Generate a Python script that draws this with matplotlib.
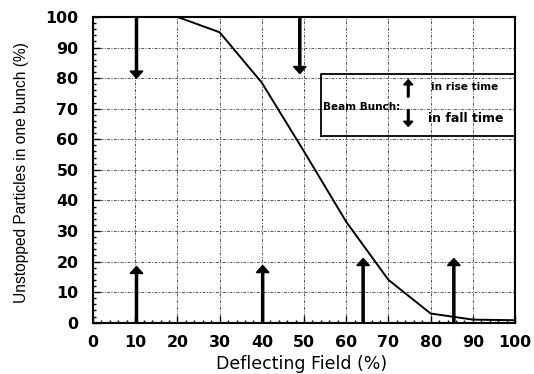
import matplotlib
matplotlib.use('Agg')
import matplotlib.pyplot as plt
from matplotlib.ticker import MultipleLocator

# measured fraction of particles that survive the deflector
field = [0, 10, 20, 30, 40, 50, 60, 70, 80, 90, 100]
unstopped = [100, 100, 100, 95, 78.5, 56, 33, 14, 3, 1.0, 0.8]

# bunch arrival markers: x position and arrow tip height
rise_x = [10.3, 40.2, 64, 85.5]
rise_tip = [18.4, 18.7, 21, 21]
fall_x = [10.3, 49]
fall_tip = [80, 81.5]

fig = plt.figure(figsize=(5.34, 3.74), dpi=100)
ax = fig.add_axes([0.1742, 0.1372, 0.7903, 0.8174])

ax.plot(field, unstopped, color='black', lw=1.4, zorder=4)

# bunches in rise time point up from the axis, fall time point down from the top
arrow_kw = dict(width=0.5, head_width=3.0, head_length=2.3,
                length_includes_head=True, color='black', zorder=5)
for x, tip in zip(rise_x, rise_tip):
    ax.arrow(x, 0, 0, tip, **arrow_kw)
for x, tip in zip(fall_x, fall_tip):
    ax.arrow(x, 100, 0, tip - 100, **arrow_kw)

# legend box drawn by hand
ax.plot([54, 54, 100, 100, 54], [61.2, 81.2, 81.2, 61.2, 61.2], color='black', lw=1.3, zorder=4)
ax.text(54.6, 70.4, 'Beam Bunch:', fontsize=7.5, fontweight='bold', va='center', ha='left')
small_kw = dict(width=0.4, head_width=2.2, head_length=1.7,
                length_includes_head=True, color='black', zorder=5)
ax.arrow(74.7, 73.8, 0, 5.7, **small_kw)
ax.arrow(74.7, 69.7, 0, -5.5, **small_kw)
ax.text(80.2, 77, 'in rise time', fontsize=7.6, fontweight='bold', va='center', ha='left')
ax.text(79.3, 66.8, 'in fall time', fontsize=9, fontweight='bold', va='center', ha='left')

ax.set_xlim(0, 100)
ax.set_ylim(0, 100)
ax.xaxis.set_major_locator(MultipleLocator(10))
ax.yaxis.set_major_locator(MultipleLocator(10))
ax.xaxis.set_minor_locator(MultipleLocator(2))
ax.yaxis.set_minor_locator(MultipleLocator(2))

ax.grid(True, which='major', color='#555555', lw=0.7, linestyle=(0, (3, 1.5, 1, 1.5)))
ax.tick_params(which='major', direction='in', length=5, width=1, color='black')
ax.tick_params(which='minor', direction='in', length=2.5, width=1, color='black')
ax.tick_params(axis='x', pad=9)
ax.tick_params(axis='y', pad=10.5)
for lab in ax.get_xticklabels() + ax.get_yticklabels():
    lab.set_fontfamily('DejaVu Sans')
    lab.set_fontweight('bold')
    lab.set_fontsize(11.4)

for s in ax.spines.values():
    s.set_linewidth(1.5)
    s.set_color('black')

ax.set_xlabel('Deflecting Field (%)', fontsize=12.5, family='DejaVu Sans')
ax.xaxis.set_label_coords(0.495, -0.105)
ax.set_ylabel('Unstopped Particles in one bunch (%)', fontsize=11.2, family='Liberation Sans')
ax.yaxis.set_label_coords(-0.152, 0.49)

fig.savefig('out.png', dpi=100)
